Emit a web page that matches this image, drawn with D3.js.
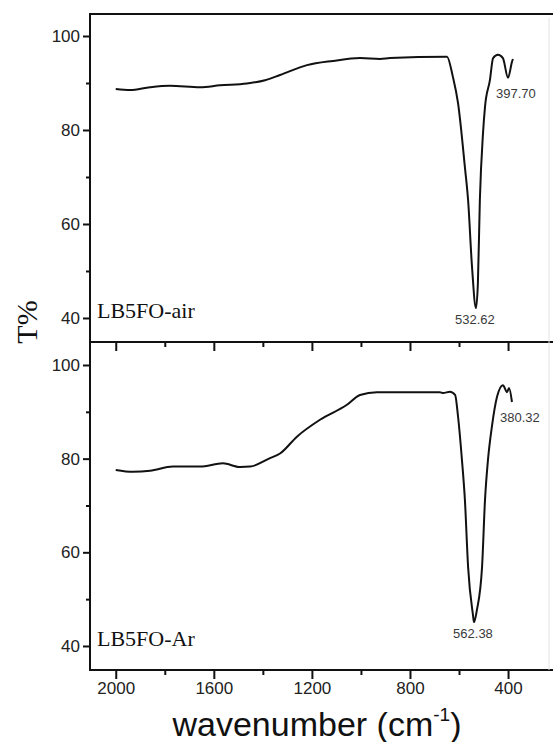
<!DOCTYPE html>
<html>
<head>
<meta charset="utf-8">
<script src="https://cdn.jsdelivr.net/npm/d3@7"></script>
<style>
body { margin: 0; background: #fff; }
.tick text { font-family: "Liberation Sans", Arial, sans-serif; font-size: 17px; fill: #222; }
.tick line { stroke: #111; stroke-width: 2; }
.curve { fill: none; stroke: #111; stroke-width: 2; }
.frame { stroke: #111; stroke-width: 2; }
.peak { font-family: "Liberation Sans", Arial, sans-serif; font-size: 13px; fill: #3a3a3a; }
.sample { font-family: "Liberation Serif", "Times New Roman", serif; font-size: 22px; fill: #111; }
</style>
</head>
<body>
<div id="chart"></div>
<script>
// LB5FO-air spectrum (wavenumber in cm-1, transmittance %)
const airWn = [2000, 1942, 1860, 1779, 1656, 1575, 1465, 1391, 1330, 1220, 1114, 1004, 922, 882, 649, 625, 604, 576, 563, 547, 531, 523, 515, 502, 494, 474, 461, 441, 421, 400, 384, 380];
const airT = [88.7, 88.5, 89.1, 89.4, 89.1, 89.5, 89.9, 90.6, 91.7, 93.8, 94.7, 95.3, 95.1, 95.3, 95.6, 91.3, 85.7, 72.1, 65.1, 50.9, 42.1, 47.4, 65.1, 79.4, 84.9, 90.6, 95.3, 96.0, 95.3, 91.1, 94.5, 95.1];

// LB5FO-Ar spectrum
const arWn = [2000, 1930, 1860, 1767, 1656, 1563, 1493, 1452, 1371, 1330, 1261, 1167, 1057, 1004, 935, 678, 665, 637, 616, 604, 588, 576, 563, 543, 539, 527, 506, 494, 482, 466, 445, 421, 404, 396, 384];
const arT = [77.6, 77.2, 77.4, 78.3, 78.3, 79.0, 78.2, 78.3, 80.1, 81.1, 84.7, 88.3, 91.5, 93.6, 94.2, 94.2, 94.0, 94.3, 93.6, 89.0, 79.7, 71.2, 56.9, 46.6, 45.1, 47.7, 56.9, 71.2, 79.7, 86.8, 93.2, 95.7, 94.2, 95.1, 92.1];

// peak annotations: label text and the wavenumber it sits at
const airPeakText = ['532.62', '397.70'];
const airPeakWn = [531, 400];
const arPeakText = ['562.38', '380.32'];
const arPeakWn = [539, 384];

const xTicks = [2000, 1600, 1200, 800, 400];
const xMinor = [1800, 1400, 1000, 600];
const yTicks = [40, 60, 80, 100];
const yMinor = [50, 70, 90];

const svgWidth = 553, svgHeight = 742;
const left = 90, right = 549;
const panelTop = 14, panelMid = 342, panelBottom = 670;

const svg = d3.select('#chart').append('svg')
    .attr('width', svgWidth)
    .attr('height', svgHeight);

let x = d3.scaleLinear().domain([2105, 233]).range([left, right]);

function zip(wn, t) {
    return wn.map(function (w, i) { return {wn: w, t: t[i]}; });
}

function make_panel(top, bottom, yDomain, data, name, peakText, peakWn) {
    let y = d3.scaleLinear().domain(yDomain).range([bottom, top]);

    // y axis, major and minor ticks
    svg.append('g')
        .attr('transform', 'translate(' + left + ',0)')
        .call(d3.axisLeft(y).tickValues(yTicks).tickFormat(d3.format('d'))
            .tickSizeInner(7).tickSizeOuter(0).tickPadding(3))
        .call(function (g) { g.select('.domain').remove(); });
    svg.append('g')
        .attr('transform', 'translate(' + left + ',0)')
        .call(d3.axisLeft(y).tickValues(yMinor).tickSizeInner(4).tickSizeOuter(0).tickFormat(''))
        .call(function (g) { g.select('.domain').remove(); });

    // x ticks at the bottom of the panel
    let xg = svg.append('g')
        .attr('transform', 'translate(0,' + bottom + ')')
        .call(d3.axisBottom(x).tickValues(xTicks).tickFormat(d3.format('d'))
            .tickSizeInner(9).tickSizeOuter(0).tickPadding(3))
        .call(function (g) { g.select('.domain').remove(); });
    if (bottom !== panelBottom) xg.selectAll('text').remove();
    svg.append('g')
        .attr('transform', 'translate(0,' + bottom + ')')
        .call(d3.axisBottom(x).tickValues(xMinor).tickSizeInner(5).tickSizeOuter(0).tickFormat(''))
        .call(function (g) { g.select('.domain').remove(); });

    let line = d3.line()
        .curve(d3.curveMonotoneX)
        .x(function (d) { return x(d.wn); })
        .y(function (d) { return y(d.t); });

    svg.append('path')
        .datum(data)
        .attr('class', 'curve')
        .attr('d', line);

    svg.append('text')
        .attr('class', 'sample')
        .attr('x', left + 7)
        .attr('y', bottom - 24)
        .text(name);

    // main absorption peak label below the minimum, second one to the right
    peakText.forEach(function (txt, i) {
        let p = data.find(function (d) { return d.wn === peakWn[i]; });
        let t = svg.append('text')
            .attr('class', 'peak')
            .text(txt);
        if (i === 0) {
            t.attr('x', x(p.wn) - 1).attr('y', y(p.t) + 16).style('text-anchor', 'middle');
        } else {
            t.attr('x', x(p.wn) - 12).attr('y', y(p.t) + 20);
        }
    });
}

make_panel(panelTop, panelMid, [34.89, 104.68], zip(airWn, airT), 'LB5FO-air', airPeakText, airPeakWn);
make_panel(panelMid, panelBottom, [34.87, 104.91], zip(arWn, arT), 'LB5FO-Ar', arPeakText, arPeakWn);

// frame
svg.append('line').attr('class', 'frame').attr('x1', left).attr('x2', svgWidth).attr('y1', panelTop).attr('y2', panelTop);
svg.append('line').attr('class', 'frame').attr('x1', left).attr('x2', svgWidth).attr('y1', panelMid).attr('y2', panelMid);
svg.append('line').attr('class', 'frame').attr('x1', left).attr('x2', svgWidth).attr('y1', panelBottom).attr('y2', panelBottom);
svg.append('line').attr('class', 'frame').attr('x1', left).attr('x2', left).attr('y1', panelTop - 1).attr('y2', panelBottom + 1);
svg.append('line').attr('x1', right).attr('x2', right).attr('y1', panelTop + 4).attr('y2', panelBottom)
    .attr('stroke', '#e2e2e2').attr('stroke-width', 1);

// axis titles
svg.append('text')
    .attr('transform', 'translate(37,322) rotate(-90)')
    .style('text-anchor', 'middle')
    .style('font-family', '"Liberation Serif", "Times New Roman", serif')
    .style('font-size', '30px')
    .style('fill', '#111')
    .text('T%');

let xt = svg.append('text')
    .attr('x', 317)
    .attr('y', 736)
    .style('text-anchor', 'middle')
    .style('font-family', '"Liberation Sans", Arial, sans-serif')
    .style('font-size', '34px')
    .style('fill', '#111');
xt.append('tspan').text('wavenumber (cm');
xt.append('tspan').attr('dy', -15).style('font-size', '19px').text('-1');
xt.append('tspan').attr('dy', 15).text(')');
</script>
</body>
</html>
